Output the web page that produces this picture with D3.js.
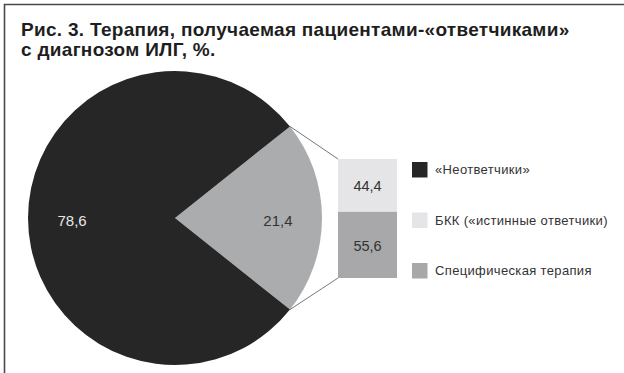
<!DOCTYPE html>
<html>
<head>
<meta charset="utf-8">
<script src="https://cdn.jsdelivr.net/npm/d3@7"></script>
<style>
  body { margin: 0; background: #fff; }
  text { font-family: "Liberation Sans", Arial, sans-serif; }
</style>
</head>
<body>
<script>
// pie: share of "responders" vs non-responders
var pieLabels = ["БКК + специфическая терапия", "«Неответчики»"];
var pieValues = [21.4, 78.6];
// breakdown of the 21,4 slice
var barLabels = ["БКК («истинные ответчики)", "Специфическая терапия"];
var barValues = [44.4, 55.6];
var legendLabels = ["«Неответчики»", "БКК («истинные ответчики)", "Специфическая терапия"];
var legendColors = ["#262626", "#e5e5e7", "#a8a8aa"];

var width = 624, height = 373;
var svg = d3.select("body").append("svg")
    .attr("width", width)
    .attr("height", height);

// frame (top and left edges only)
svg.append("path")
    .attr("d", "M4.5,373 L4.5,4.5 L624,4.5")
    .attr("fill", "none")
    .attr("stroke", "#4a4a4a")
    .attr("stroke-width", 1.6);

var title = svg.append("text")
    .attr("font-weight", "bold")
    .attr("font-size", 19)
    .attr("letter-spacing", 0.3)
    .attr("fill", "#1e1e1e");
title.append("tspan").attr("x", 21).attr("y", 35.5).text("Рис. 3. Терапия, получаемая пациентами-«ответчиками»");
title.append("tspan").attr("x", 21).attr("y", 55.5).text("с диагнозом ИЛГ, %.");

var cx = 175, cy = 218, r = 147;
var total = d3.sum(pieValues);
var half = Math.PI * pieValues[0] / total;

var pie = d3.pie().sort(null)
    .startAngle(Math.PI / 2 - half)
    .endAngle(Math.PI / 2 - half + 2 * Math.PI);
var arcs = pie(pieValues);
var arc = d3.arc().innerRadius(0).outerRadius(r);
var labelArc = d3.arc().innerRadius(r * 0.7).outerRadius(r * 0.7);
var pieColors = ["#abacae", "#262626"];
var pieText = ["#333", "#e6e6e6"];

var g = svg.append("g").attr("transform", "translate(" + cx + "," + cy + ")");
g.selectAll("path")
    .data(arcs).enter()
    .append("path")
    .attr("d", arc)
    .attr("fill", function(d, i){ return pieColors[i]; });

g.selectAll("text")
    .data(arcs).enter()
    .append("text")
    .attr("x", function(d){ return labelArc.centroid(d)[0]; })
    .attr("y", function(d){ return labelArc.centroid(d)[1] + 8; })
    .attr("text-anchor", "middle")
    .attr("font-size", 15)
    .attr("fill", function(d, i){ return pieText[i]; })
    .text(function(d){ return d3.format(".1f")(d.value).replace(".", ","); });

// stacked bar for the small slice
var barX = 338, barW = 59;
var y = d3.scaleLinear().domain([0, d3.sum(barValues)]).range([159, 278]);
var stacked = [];
var acc = 0;
barValues.forEach(function(v, i){
  stacked.push({v: v, y0: acc, y1: acc + v, c: legendColors[i + 1]});
  acc += v;
});

svg.selectAll("rect.bar")
    .data(stacked).enter()
    .append("rect")
    .attr("class", "bar")
    .attr("x", barX)
    .attr("y", function(d){ return y(d.y0); })
    .attr("width", barW)
    .attr("height", function(d){ return y(d.y1) - y(d.y0); })
    .attr("fill", function(d){ return d.c; });

svg.selectAll("text.barlab")
    .data(stacked).enter()
    .append("text")
    .attr("class", "barlab")
    .attr("x", barX + barW / 2)
    .attr("y", function(d){ return (y(d.y0) + y(d.y1)) / 2 + 6; })
    .attr("text-anchor", "middle")
    .attr("font-size", 14.5)
    .attr("fill", "#333")
    .text(function(d){ return d3.format(".1f")(d.v).replace(".", ","); });

// connector lines from the slice edges to the bar
var a0 = arcs[0].startAngle, a1 = arcs[0].endAngle;
var p0 = [cx + r * Math.sin(a0), cy - r * Math.cos(a0)];
var p1 = [cx + r * Math.sin(a1), cy - r * Math.cos(a1)];
svg.append("path")
    .attr("d", "M" + p0 + "L" + [barX, y(0)] + "M" + p1 + "L" + [barX, y(100)])
    .attr("fill", "none")
    .attr("stroke", "#555")
    .attr("stroke-width", 0.8);

// legend
var legend = svg.append("g").attr("transform", "translate(412,162)");
var rows = legend.selectAll("g")
    .data(legendLabels).enter()
    .append("g")
    .attr("transform", function(d, i){ return "translate(0," + i * 50.5 + ")"; });
rows.append("rect")
    .attr("width", 15.5)
    .attr("height", 15.5)
    .attr("fill", function(d, i){ return legendColors[i]; });
rows.append("text")
    .attr("x", 23)
    .attr("y", 12.3)
    .attr("font-size", 13)
    .attr("letter-spacing", 0.35)
    .attr("fill", "#333")
    .text(function(d){ return d; });
</script>
</body>
</html>
